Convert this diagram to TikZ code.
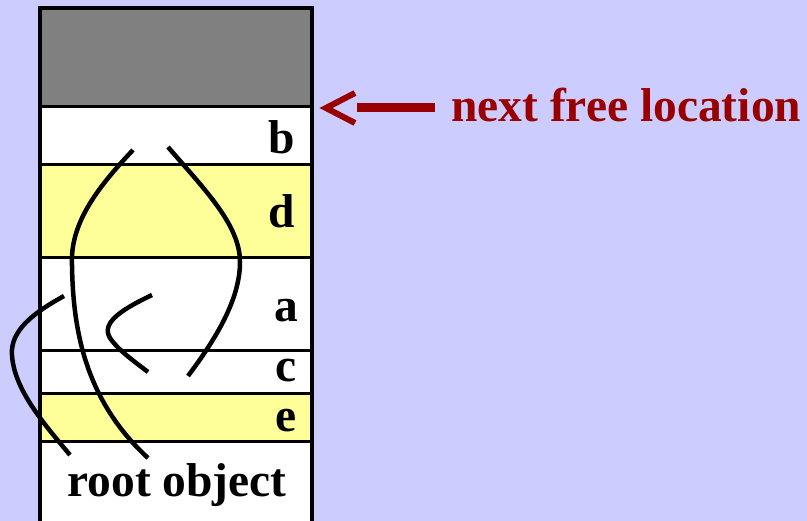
\documentclass[tikz,border=0pt]{standalone}
\usepackage{fontspec}
\setmainfont{Liberation Serif}
\definecolor{bgblue}{HTML}{CCCCFF}
\definecolor{freegray}{HTML}{808080}
\definecolor{objyellow}{HTML}{FFFF99}
\definecolor{darkred}{HTML}{990000}
\tikzset{
  cell/.style={draw=black, line width=3pt},
  lbl/.style={font=\fontsize{47.5}{50}\selectfont\bfseries, inner sep=0pt, anchor=base east},
  ptr/.style={draw=black, line width=4.5pt},
}
\begin{document}
\begin{tikzpicture}[x=1pt,y=-1pt]
\useasboundingbox (0,0) rectangle (807,521);
\clip (0,0) rectangle (807,521);
\fill[bgblue] (0,0) rectangle (807,521);
% cells
\path[cell, fill=freegray] (40,8) rectangle (312,107);
\path[cell, fill=white] (40,107) rectangle (312,165);
\path[cell, fill=objyellow] (40,165) rectangle (312,258);
\path[cell, fill=white] (40,258) rectangle (312,351);
\path[cell, fill=white] (40,351) rectangle (312,394);
\path[cell, fill=objyellow] (40,394) rectangle (312,442);
\path[cell, fill=white] (40,442) rectangle (312,530);
\draw[line width=4pt] (40,530) -- (40,8) -- (312,8) -- (312,530);
% labels
\node[lbl] (lb) at (295,154) {b};
\node[lbl] (ld) at (295,228) {d};
\node[lbl] (la) at (298,322) {a};
\node[lbl] (lc) at (297,382) {c};
\node[lbl] (le) at (297,432) {e};
\node[lbl, anchor=base] (root) at (177,497) {root object};
% pointers
\draw[ptr] (133,150) .. controls (95,190) and (70,225) .. (72,265)
  .. controls (73,330) and (85,400) .. (148,458);
\draw[ptr] (168,147) .. controls (205,190) and (240,225) .. (240,262)
  .. controls (240,300) and (215,340) .. (188,376);
\draw[ptr] (152,295) .. controls (125,308) and (100,322) .. (110,338)
  .. controls (118,350) and (135,362) .. (148,372);
\draw[ptr] (64,296) .. controls (35,312) and (10,330) .. (12,355)
  .. controls (14,390) and (45,425) .. (70,455);
% next free location
\node[font=\fontsize{47.5}{50}\selectfont\bfseries, text=darkred, inner sep=0pt, anchor=base west] (nfl) at (451,122) {next free location};
\coordinate (tip) at (326,108);
\draw[darkred, line width=6pt, line cap=butt, line join=miter] (355,93) -- (tip) -- (355,123);
\draw[darkred, line width=9pt] (357,108) -- (435,108);
\end{tikzpicture}
\end{document}
